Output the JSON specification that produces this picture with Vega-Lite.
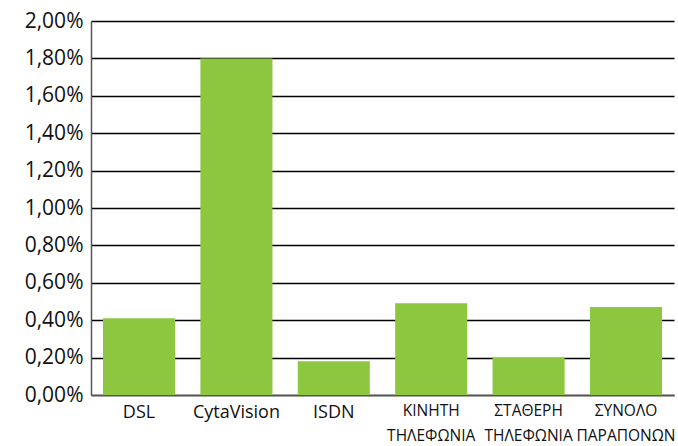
{
  "$schema": "https://vega.github.io/schema/vega-lite/v6.json",
  "autosize": {"type": "none"},
  "padding": {"left": 91, "top": 21, "right": 4, "bottom": 51},
  "width": 583,
  "height": 374,
  "background": "white",
  "data": {
    "values": [
      {"category": "DSL", "value": 0.0041},
      {"category": "CytaVision", "value": 0.0180},
      {"category": "ISDN", "value": 0.0018},
      {"category": "ΚΙΝΗΤΗ|ΤΗΛΕΦΩΝΙΑ", "value": 0.0049},
      {"category": "ΣΤΑΘΕΡΗ|ΤΗΛΕΦΩΝΙΑ", "value": 0.0020},
      {"category": "ΣΥΝΟΛΟ|ΠΑΡΑΠΟΝΩΝ", "value": 0.0047}
    ]
  },
  "mark": {"type": "bar", "color": "#8DC63F"},
  "encoding": {
    "x": {
      "field": "category",
      "type": "nominal",
      "sort": null,
      "scale": {"paddingInner": 0.26, "paddingOuter": 0.123},
      "axis": {
        "title": null,
        "labelAngle": 0,
        "labelExpr": "split(datum.label, '|')",
        "labelFont": "Open Sans",
        "labelFontSize": {"condition": {"test": "indexof(datum.label, '|') >= 0", "value": 15.5}, "value": 18},
        "labelColor": "#111",
        "labelLineHeight": 25,
        "labelPadding": 8,
        "ticks": false,
        "domainColor": "#555",
        "domainWidth": 1.5,
        "labelBaseline": "top"
      }
    },
    "y": {
      "field": "value",
      "type": "quantitative",
      "scale": {"domain": [0, 0.02], "nice": false},
      "axis": {
        "title": null,
        "values": [0, 0.002, 0.004, 0.006, 0.008, 0.01, 0.012, 0.014, 0.016, 0.018, 0.02],
        "labelExpr": "replace(format(datum.value, '.2%'), '.', ',')",
        "labelFont": "Open Sans",
        "labelFontSize": 21,
        "labelColor": "#111",
        "labelPadding": 8,
        "ticks": false,
        "grid": true,
        "gridColor": "#000",
        "gridWidth": 1.5,
        "domainColor": "#555",
        "domainWidth": 1.5
      }
    }
  },
  "config": {"view": {"stroke": null}}
}
